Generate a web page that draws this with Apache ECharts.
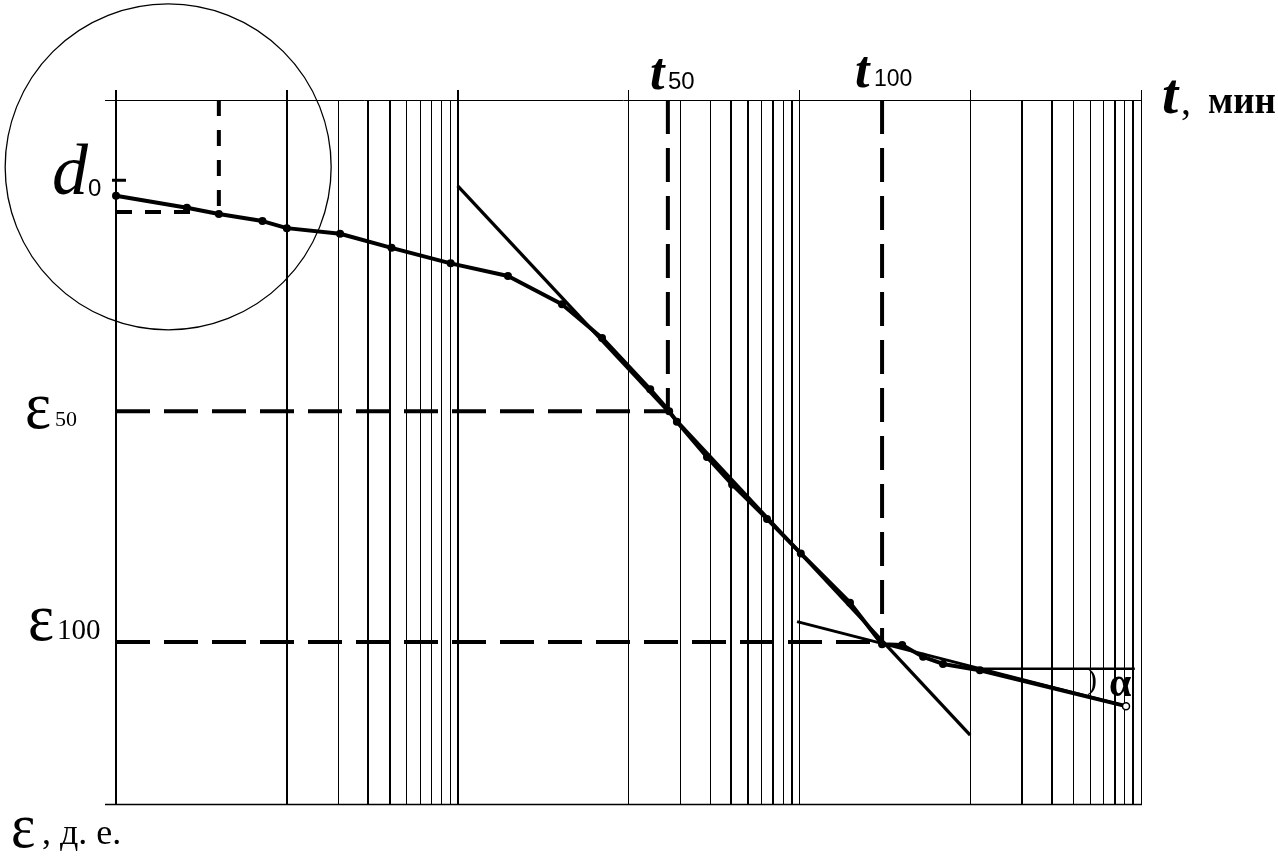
<!DOCTYPE html>
<html><head><meta charset="utf-8">
<script src="https://cdn.jsdelivr.net/npm/echarts@6/dist/echarts.min.js"></script>
<style>html,body{margin:0;padding:0;background:#fff}#c{width:1278px;height:862px}</style>
</head><body><div id="c"></div>
<script>
// ---- axes (t, мин on a log scale; ε in relative units, growing downward) ----
var tMin = 0.01, tMax = 10000;
var epsMin = 0, epsMax = 100;
var decadeLines = [0.01, 0.1, 1, 10, 100, 1000, 10000];
var minorLines = [0.2, 0.3, 0.4, 0.5, 0.6, 0.7, 0.8, 0.9,
                  20, 30, 40, 50, 60, 70, 80, 90,
                  2000, 3000, 4000, 5000, 6000, 7000, 8000, 9000];

// ---- consolidation curve ----
var curveT   = [0.01, 0.026, 0.04, 0.072, 0.1, 0.205, 0.41, 0.91, 1.97, 4.08, 7.0, 13.4, 17.3, 19.2, 28.8, 40.4, 64.7, 102, 198, 305, 400, 530, 693, 1140, 8170];
var curveEps = [13.6, 15.3, 16.2, 17.2, 18.2, 19.0, 21.0, 23.2, 25.0, 29.0, 33.8, 41.1, 44.2, 45.7, 50.7, 54.6, 59.5, 64.4, 71.4, 77.3, 77.4, 79.1, 80.1, 81.0, 86.1];

// ---- tangents ----
var steepT = [1.0, 1000], steepEps = [12.2, 90.2];
var tailT = [97, 8170],   tailEps = [74.1, 86.1];
var angleT = [1140, 9200], angleEps = [80.8, 80.8];

// ---- characteristic values ----
var t50 = 17, eps50 = 44.2;
var t100 = 305, eps100 = 77.0;
var d0Eps = 11.4;                 // d0 tick
var d0DashT = [0.01, 0.028], d0DashEps = 15.9;
var d0VertT = 0.04, d0VertEps = 16.2;
var circleT = 0.0202, circleEps = 9.5;

function pairs(xs, ys) { return xs.map(function (x, i) { return [x, ys[i]]; }); }

var heavy = {0.01:1, 0.1:1, 1:1, 0.3:1, 0.4:1, 40:1, 50:1, 70:1, 90:1, 2000:1, 3000:1, 7000:1, 9000:1};

function gridRender(ext) {
  return function (params, api) {
    var t = api.value(0);
    var a = api.coord([t, epsMin]), b = api.coord([t, epsMax]);
    var w = heavy[t] ? 2 : 1;
    var x = Math.round(a[0]) + (w === 1 ? 0.5 : 0);
    return { type: 'line', shape: { x1: x, y1: a[1] - ext, x2: x, y2: b[1] },
             style: { stroke: '#000', lineWidth: w } };
  };
}

var chart = echarts.init(document.getElementById('c'), null, { renderer: 'canvas' });

var curveData = pairs(curveT, curveEps).map(function (p, i, arr) {
  if (i === arr.length - 1) {
    return { value: p, symbolSize: 7, itemStyle: { color: '#fff', borderColor: '#000', borderWidth: 1.5 } };
  }
  return p;
});

function dashed(name, data, w, pattern) {
  return { type: 'line', name: name, data: data, symbol: 'none', silent: true, z: 3,
           lineStyle: { color: '#000', width: w, type: pattern, cap: 'butt' } };
}
function solid(name, data, w, z) {
  return { type: 'line', name: name, data: data, symbol: 'none', silent: true, z: z || 4,
           lineStyle: { color: '#000', width: w } };
}

var serif = '"Liberation Serif", "Times New Roman", serif';
var sans = '"Liberation Sans", Arial, sans-serif';
// x = left edge, base = baseline y
function txt(s, x, base, size, font, sy) {
  return { type: 'text', x: x, y: base, scaleY: sy || 1,
           style: { text: s, x: 0, y: -0.8 * size, font: font.replace('#', size + 'px'), fill: '#000', align: 'left', verticalAlign: 'top' }, z: 10 };
}

chart.setOption({
  animation: false,
  backgroundColor: '#fff',
  grid: { left: 116, right: 137, top: 100, bottom: 58, containLabel: false, outerBoundsMode: 'none' },
  xAxis: { type: 'log', logBase: 10, min: tMin, max: tMax,
           axisLine: { show: false }, axisTick: { show: false }, axisLabel: { show: false },
           splitLine: { show: false }, minorTick: { show: false } },
  yAxis: { type: 'value', min: epsMin, max: epsMax, inverse: true,
           axisLine: { show: false }, axisTick: { show: false }, axisLabel: { show: false },
           splitLine: { show: false } },
  series: [
    { type: 'custom', name: 'decades', data: decadeLines.map(function (t) { return [t, epsMin]; }),
      renderItem: gridRender(10), silent: true, z: 1, clip: false },
    { type: 'custom', name: 'minor', data: minorLines.map(function (t) { return [t, epsMin]; }),
      renderItem: gridRender(0), silent: true, z: 1, clip: false },
    { type: 'custom', name: 'frame', data: [[tMin, epsMin]], silent: true, z: 1, clip: false,
      renderItem: function (params, api) {
        var a = api.coord([tMin, epsMin]), b = api.coord([tMax, epsMax]);
        var x1 = Math.round(a[0]) - 11, x2 = Math.round(b[0]) + 1;
        return { type: 'group', children: [
          { type: 'line', shape: { x1: x1, y1: Math.round(a[1]) + 0.5, x2: x2, y2: Math.round(a[1]) + 0.5 }, style: { stroke: '#000', lineWidth: 1 } },
          { type: 'line', shape: { x1: x1, y1: Math.round(b[1]) + 0.5, x2: x2, y2: Math.round(b[1]) + 0.5 }, style: { stroke: '#000', lineWidth: 1.5 } }
        ] };
      } },
    { type: 'custom', name: 'circle', data: [[circleT, circleEps]], silent: true, z: 2, clip: false,
      renderItem: function (params, api) {
        var c = api.coord([api.value(0), api.value(1)]);
        return { type: 'circle', shape: { cx: c[0], cy: c[1], r: 163 },
                 style: { fill: 'none', stroke: '#000', lineWidth: 1.3 } };
      } },
    { type: 'custom', name: 'd0tick', data: [[tMin, d0Eps]], silent: true, z: 5, clip: false,
      renderItem: function (params, api) {
        var c = api.coord([api.value(0), api.value(1)]);
        return { type: 'line', shape: { x1: c[0] - 4, y1: c[1], x2: c[0] + 10, y2: c[1] },
                 style: { stroke: '#000', lineWidth: 3 } };
      } },
    dashed('eps50', [[tMin, eps50], [t50, eps50]], 4, [34, 14]),
    dashed('t50', [[t50, epsMin], [t50, eps50]], 4, [34, 14]),
    dashed('eps100', [[tMin, eps100], [t100, eps100]], 4, [34, 14]),
    dashed('t100', [[t100, epsMin], [t100, eps100]], 4, [34, 14]),
    dashed('d0h', [[d0DashT[0], d0DashEps], [d0DashT[1], d0DashEps]], 4, [16, 13]),
    dashed('d0v', [[d0VertT, epsMin], [d0VertT, d0VertEps]], 4, [16, 14]),
    solid('steep', pairs(steepT, steepEps), 3.3),
    solid('tail', pairs(tailT, tailEps), 3),
    solid('angle', pairs(angleT, angleEps), 2.5),
    { type: 'line', name: 'curve', data: curveData, symbol: 'circle', symbolSize: 8, z: 6,
      itemStyle: { color: '#000' }, lineStyle: { color: '#000', width: 4 }, silent: true }
  ],
  graphic: [
    txt('t', 650, 91, 52, 'italic bold # ' + serif),
    txt('50', 668, 90, 24, '# ' + sans),
    txt('t', 855, 89, 52, 'italic bold # ' + serif),
    txt('100', 874, 87, 23, '# ' + sans),
    txt('t', 1162, 115, 58, 'italic bold # ' + serif),
    txt(',', 1181, 115, 40, '# ' + serif),
    txt('мин', 1208, 115, 37, 'bold # ' + serif),
    txt('d', 52, 197, 72, 'italic # ' + serif),
    txt('0', 88, 197, 24, '# ' + sans),
    txt('ε', 25, 431, 62, '# ' + serif, 1.1),
    txt('50', 55, 427, 22, '# ' + serif),
    txt('ε', 28, 643, 62, '# ' + serif, 1.1),
    txt('100', 57, 640, 29, '# ' + serif),
    txt('ε', 11, 849, 58, '# ' + serif, 1.1),
    txt(', д. е.', 42, 845, 36, '# ' + serif),
    txt(')', 1087, 690, 30, '# ' + serif),
    txt('α', 1109, 698, 40, 'bold # ' + serif)
  ]
});
</script></body></html>
